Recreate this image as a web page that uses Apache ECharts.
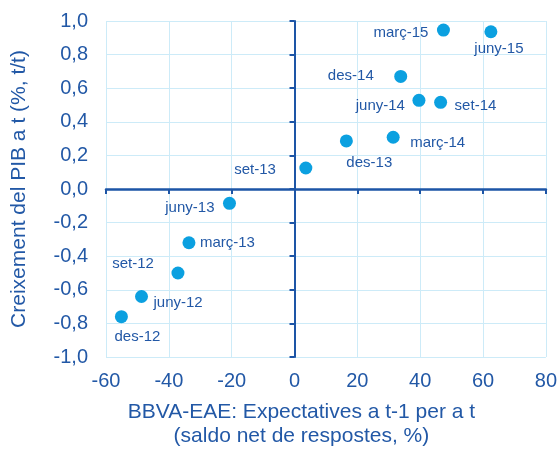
<!DOCTYPE html>
<html>
<head>
<meta charset="utf-8">
<script src="https://cdn.jsdelivr.net/npm/echarts@6/dist/echarts.min.js"></script>
<style>html,body{margin:0;padding:0;background:#fff}#c{width:560px;height:454px}</style>
</head>
<body>
<div id="c"></div>
<script>
const periods = ['des-12','juny-12','set-12','març-13','juny-13','set-13','des-13','març-14','juny-14','set-14','des-14','març-15','juny-15'];
const expectatives = [-55.1, -48.7, -37.1, -33.6, -20.7, 3.6, 16.5, 31.4, 39.6, 46.5, 33.8, 47.4, 62.5];
const pibGrowth = [-0.76, -0.64, -0.50, -0.32, -0.085, 0.125, 0.286, 0.308, 0.528, 0.516, 0.67, 0.946, 0.936];
const xTickLabels = ['-60','-40','-20','0','20','40','60','80'];
const yTickLabels = ['-1,0','-0,8','-0,6','-0,4','-0,2','0,0','0,2','0,4','0,6','0,8','1,0'];

// label placement (style): [align, dx, dy] relative to point centre
const labelPlacement = {
  'des-12': ['center', 16, 20], 'juny-12': ['left', 12, 6], 'set-12': ['right', -24, -9],
  'març-13': ['left', 11, 0], 'juny-13': ['right', -15, 5], 'set-13': ['right', -30, 2],
  'des-13': ['left', 0, 22], 'març-14': ['left', 17, 6], 'juny-14': ['right', -14, 6],
  'set-14': ['left', 14, 4], 'des-14': ['right', -27, -1], 'març-15': ['right', -15, 3],
  'juny-15': ['center', 8, 17]
};

const BLUE_TXT = '#2258a6';
const BLUE_AX = '#1d55a6';
const DOT = '#0ba0e0';
const GRID = '#cdebf8';
const SYM = 13;

const data = periods.map((p, i) => {
  const pl = labelPlacement[p];
  return {
    name: p,
    value: [expectatives[i], pibGrowth[i]],
    label: {
      show: true,
      formatter: p,
      position: [SYM / 2 + pl[1], SYM / 2 + pl[2]],
      align: pl[0],
      verticalAlign: 'middle'
    }
  };
});

const chart = echarts.init(document.getElementById('c'), null, {renderer: 'canvas'});
chart.setOption({
  animation: false,
  textStyle: {fontFamily: 'Liberation Sans, Arial, sans-serif'},
  grid: {left: 106, right: 12, top: 21, bottom: 97},
  xAxis: [{
    type: 'value', min: -60, max: 80, interval: 20, position: 'bottom',
    axisLine: {show: false, onZero: false}, axisTick: {show: false},
    splitLine: {show: true, lineStyle: {color: GRID, width: 1}},
    axisLabel: {color: BLUE_TXT, fontSize: 20, margin: 14,
      formatter: (v, i) => xTickLabels[i]},
    name: 'BBVA-EAE: Expectatives a t-1 per a t\n(saldo net de respostes, %)',
    nameLocation: 'middle', nameGap: 43,
    nameTextStyle: {color: BLUE_TXT, fontSize: 21, lineHeight: 24, padding: [0, 49, 0, 0]}
  }, {
    type: 'value', min: -60, max: 80, interval: 20, position: 'bottom',
    axisLine: {show: true, onZero: true, lineStyle: {color: BLUE_AX, width: 2.5}},
    axisTick: {show: true, length: 5, lineStyle: {color: BLUE_AX, width: 2}},
    axisLabel: {show: false}, splitLine: {show: false}
  }],
  yAxis: [{
    type: 'value', min: -1, max: 1, interval: 0.2, position: 'left',
    axisLine: {show: false, onZero: false}, axisTick: {show: false},
    splitLine: {show: true, lineStyle: {color: GRID, width: 1}},
    axisLabel: {color: BLUE_TXT, fontSize: 20, margin: 18,
      formatter: (v, i) => yTickLabels[i]},
    name: 'Creixement del PIB a t (%, t/t)',
    nameLocation: 'middle', nameGap: 76, nameRotate: 90,
    nameTextStyle: {color: BLUE_TXT, fontSize: 21, padding: [0, 0, 0, 0]}
  }, {
    type: 'value', min: -1, max: 1, interval: 0.2, position: 'left',
    axisLine: {show: true, onZero: true, lineStyle: {color: BLUE_AX, width: 2}},
    axisTick: {show: true, length: 5, lineStyle: {color: BLUE_AX, width: 2}},
    axisLabel: {show: false}, splitLine: {show: false}
  }],
  series: [{
    type: 'scatter', xAxisIndex: 0, yAxisIndex: 0,
    symbol: 'circle', symbolSize: SYM,
    itemStyle: {color: DOT, opacity: 1},
    label: {color: BLUE_TXT, fontSize: 15},
    data: data
  }]
});
</script>
</body>
</html>
